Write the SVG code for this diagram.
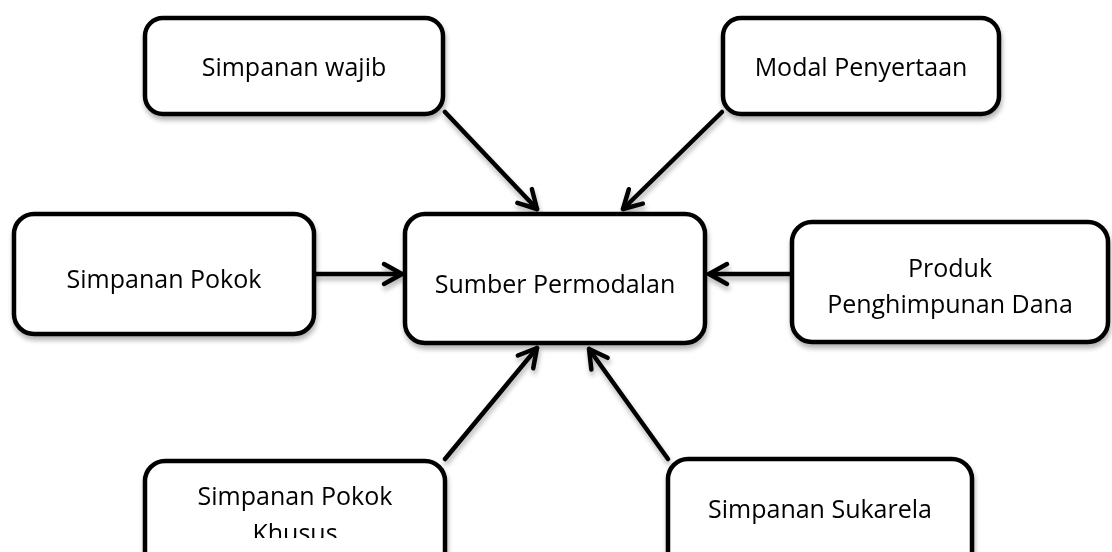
<svg xmlns="http://www.w3.org/2000/svg" width="1112" height="552" viewBox="0 0 1112 552">
  <defs>
    <filter id="sh" x="-10%" y="-10%" width="130%" height="140%">
      <feGaussianBlur in="SourceAlpha" stdDeviation="2.5"/>
      <feOffset dx="1" dy="4" result="b"/>
      <feComponentTransfer><feFuncA type="linear" slope="0.3"/></feComponentTransfer>
      <feMerge><feMergeNode/><feMergeNode in="SourceGraphic"/></feMerge>
    </filter>
    <marker id="arr" markerUnits="userSpaceOnUse" markerWidth="40" markerHeight="40" viewBox="-30 -20 40 40" refX="0" refY="0" orient="auto">
      <path d="M-18,-10 L0,0 L-18,10" fill="none" stroke="#000" stroke-width="4.5" stroke-linecap="round" stroke-linejoin="round"/>
    </marker>
    <clipPath id="clipK"><rect x="140" y="455" width="310" height="83"/></clipPath>
    <style>
      .box{fill:#fff;stroke:#000;stroke-width:4.5}
      .t{font-family:"Open Sans","Liberation Sans",sans-serif;font-size:25px;fill:#000;text-anchor:middle}
      .c{fill:none;stroke:#000;stroke-width:4.5;stroke-linecap:round}
    </style>
  </defs>
  <rect width="1112" height="552" fill="#fff"/>

  <g id="connectors" filter="url(#sh)">
    <line class="c" x1="445" y1="112" x2="537" y2="209" marker-end="url(#arr)"/>
    <line class="c" x1="722" y1="112" x2="623" y2="209" marker-end="url(#arr)"/>
    <line class="c" x1="314" y1="274" x2="402" y2="274" marker-end="url(#arr)"/>
    <line class="c" x1="792" y1="274" x2="709" y2="274" marker-end="url(#arr)"/>
    <line class="c" x1="445" y1="459" x2="537" y2="348" marker-end="url(#arr)"/>
    <line class="c" x1="668" y1="459" x2="589" y2="349" marker-end="url(#arr)"/>
  </g>

  <g id="simpanan-wajib" filter="url(#sh)">
    <rect class="box" x="145" y="18" width="298" height="96" rx="18"/>
    <text class="t" x="294" y="76">Simpanan wajib</text>
  </g>
  <g id="modal-penyertaan" filter="url(#sh)">
    <rect class="box" x="723" y="18" width="276" height="96" rx="18"/>
    <text class="t" x="861" y="76">Modal Penyertaan</text>
  </g>
  <g id="simpanan-pokok" filter="url(#sh)">
    <rect class="box" x="14" y="214" width="300" height="120" rx="20"/>
    <text class="t" x="164" y="288">Simpanan Pokok</text>
  </g>
  <g id="sumber-permodalan" filter="url(#sh)">
    <rect class="box" x="405" y="214" width="300" height="129" rx="20"/>
    <text class="t" x="555" y="293">Sumber Permodalan</text>
  </g>
  <g id="produk-penghimpunan-dana" filter="url(#sh)">
    <rect class="box" x="792" y="222" width="316" height="120" rx="20"/>
    <text class="t" x="950" y="277">Produk</text>
    <text class="t" x="950" y="313">Penghimpunan Dana</text>
  </g>
  <g id="simpanan-pokok-khusus" filter="url(#sh)">
    <rect class="box" x="145" y="461" width="300" height="130" rx="20"/>
    <text class="t" x="295" y="505">Simpanan Pokok</text>
    <text class="t" x="295" y="542" clip-path="url(#clipK)">Khusus</text>
  </g>
  <g id="simpanan-sukarela" filter="url(#sh)">
    <rect class="box" x="668" y="459" width="304" height="130" rx="20"/>
    <text class="t" x="820" y="518">Simpanan Sukarela</text>
  </g>
</svg>
